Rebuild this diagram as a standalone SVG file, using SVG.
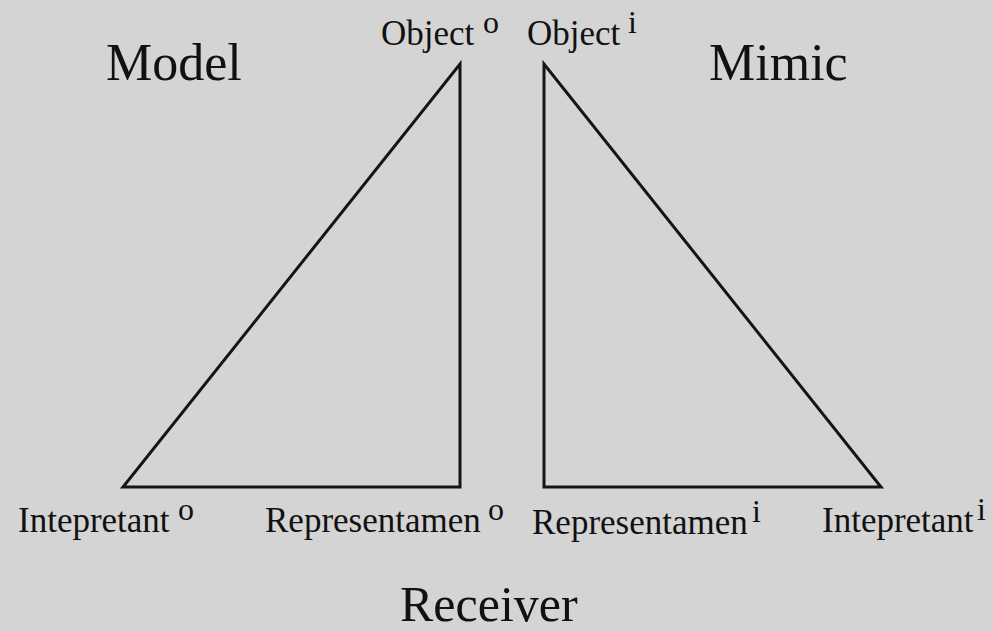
<svg xmlns="http://www.w3.org/2000/svg" width="993" height="631" viewBox="0 0 993 631">
<style>
text{font-family:"Liberation Serif","Times New Roman",serif;fill:#111111}
.t{font-size:52px}
.l{font-size:35px}
.s{font-size:32px}
.edge{fill:none;stroke:#141414;stroke-width:3;stroke-linejoin:miter}
</style>
<rect width="993" height="631" fill="#d4d4d4"/>
<g id="title-model"><text class="t" x="106" y="80">Model</text></g>
<g id="title-mimic"><text class="t" x="709" y="80">Mimic</text></g>
<g id="title-receiver"><text class="t" x="400" y="621" style="font-size:50px">Receiver</text></g>
<g id="node-object-o"><text class="l" x="381" y="45">Object</text><text class="s" x="483" y="33">o</text></g>
<g id="node-object-i"><text class="l" x="527" y="45">Object</text><text class="s" x="628" y="33">i</text></g>
<g id="node-interpretant-o"><text class="l" x="18" y="532">Intepretant</text><text class="s" x="178" y="520">o</text></g>
<g id="node-representamen-o"><text class="l" x="265" y="532">Representamen</text><text class="s" x="488" y="520">o</text></g>
<g id="node-representamen-i"><text class="l" x="532" y="534">Representamen</text><text class="s" x="752" y="522">i</text></g>
<g id="node-interpretant-i"><text class="l" x="822" y="532">Intepretant</text><text class="s" x="977" y="520">i</text></g>
<g id="connectors">
<polygon class="edge" points="460,64 460,487 123,487"/>
<polygon class="edge" points="544,64 544,487 881,487"/>
</g>
</svg>
